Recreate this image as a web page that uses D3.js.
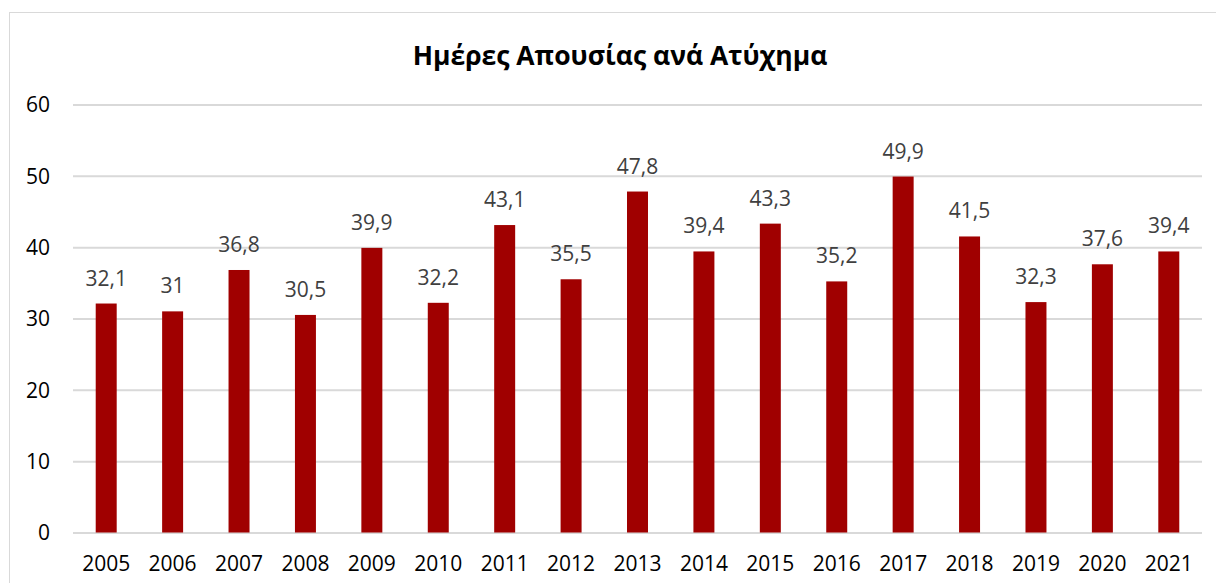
<!DOCTYPE html>
<html><head><meta charset="utf-8">
<script src="https://cdn.jsdelivr.net/npm/d3@7"></script>
<style>body{margin:0;background:#fff}svg{display:block}</style>
</head><body>
<svg id="c" width="1216" height="583"></svg>
<script>
const title = "Ημέρες Απουσίας ανά Ατύχημα";
const years = ["2005","2006","2007","2008","2009","2010","2011","2012","2013","2014","2015","2016","2017","2018","2019","2020","2021"];
const values = [32.1,31,36.8,30.5,39.9,32.2,43.1,35.5,47.8,39.4,43.3,35.2,49.9,41.5,32.3,37.6,39.4];
const yTicks = [0,10,20,30,40,50,60];

const svg = d3.select("#c");
const font = "'Open Sans', sans-serif";
svg.append("rect").attr("x",9.5).attr("y",12.5).attr("width",1240).attr("height",600)
  .attr("fill","#fff").attr("stroke","#d9d9d9").attr("stroke-width",1);

const x = d3.scaleBand().domain(years).range([73,1202]).paddingInner(0.684).paddingOuter(0.342);
const y = d3.scaleLinear().domain([0,60]).range([532.5,104.5]);

const yAxis = d3.axisLeft(y).tickValues(yTicks).tickSize(-(1202-73)).tickPadding(0);
const gy = svg.append("g").attr("transform","translate(73,0)").call(yAxis);
gy.select(".domain").remove();
gy.selectAll(".tick line").attr("stroke","#d9d9d9").attr("stroke-width",2);
gy.selectAll(".tick text").attr("x",-23).attr("dy","0.35em").attr("text-anchor","end")
  .style("font-family",font).style("font-size","21px").attr("fill","#000");

const xAxis = d3.axisBottom(x).tickSize(0).tickPadding(0);
const gx = svg.append("g").attr("transform","translate(0,532.5)").call(xAxis);
gx.select(".domain").remove();
gx.selectAll(".tick text").attr("y",31).attr("dy","0.35em")
  .style("font-family",font).style("font-size","21px").attr("fill","#000");

svg.append("g").selectAll("rect").data(values).join("rect")
  .attr("x",(d,i)=>x(years[i])).attr("width",x.bandwidth())
  .attr("y",d=>y(d)).attr("height",d=>y(0)-y(d)).attr("fill","#a00000");

svg.append("g").selectAll("text").data(values).join("text")
  .attr("x",(d,i)=>x(years[i])+x.bandwidth()/2).attr("y",d=>y(d)-18)
  .attr("text-anchor","middle").style("font-family",font).style("font-size","21px")
  .attr("fill","#404040").text(d=>String(d).replace(".",","));

svg.append("text").attr("x",620).attr("y",65).attr("text-anchor","middle")
  .style("font-family",font).style("font-size","26.5px").style("font-weight","bold")
  .attr("fill","#000").text(title);
</script>
</body></html>
